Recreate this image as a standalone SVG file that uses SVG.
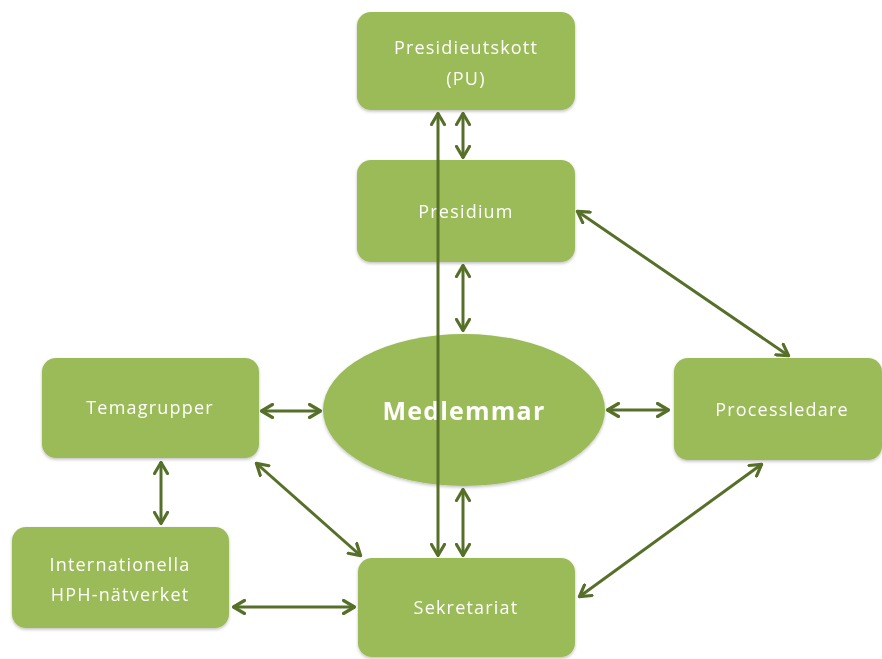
<svg xmlns="http://www.w3.org/2000/svg" width="882" height="659" viewBox="0 0 882 659">
<defs>
<style>
.node{fill:#9BBB59;}
.lbl{font-family:"Open Sans","Liberation Sans",sans-serif;font-size:18px;fill:#FFFFFF;text-anchor:middle;letter-spacing:1.2px;}
.big{font-family:"Open Sans","Liberation Sans",sans-serif;font-size:25px;font-weight:bold;fill:#FFFFFF;text-anchor:middle;letter-spacing:1.2px;}
.con{stroke:#56702A;stroke-width:3;fill:none;marker-start:url(#ah);marker-end:url(#ah);}
</style>
<marker id="ah" viewBox="0 0 14 16" refX="13" refY="8" markerWidth="14" markerHeight="16" markerUnits="userSpaceOnUse" orient="auto-start-reverse">
<path d="M1.5,1.5 L12.5,8 L1.5,14.5" fill="none" stroke="#56702A" stroke-width="3.2" stroke-linecap="round" stroke-linejoin="round"/>
</marker>
<filter id="sh" x="-10%" y="-10%" width="120%" height="130%">
<feDropShadow dx="0" dy="1.5" stdDeviation="1.5" flood-color="#000" flood-opacity="0.25"/>
</filter>
</defs>
<g id="pu" filter="url(#sh)">
<rect class="node" x="357" y="12" width="218" height="98" rx="14"/>
<text class="lbl" x="466" y="54">Presidieutskott</text>
<text class="lbl" x="466" y="85">(PU)</text>
</g>
<g id="presidium" filter="url(#sh)">
<rect class="node" x="357" y="160" width="218" height="102" rx="14"/>
<text class="lbl" x="466" y="218">Presidium</text>
</g>
<g id="medlemmar" filter="url(#sh)">
<ellipse class="node" cx="464" cy="410" rx="141" ry="76"/>
<text class="big" x="464" y="420">Medlemmar</text>
</g>
<g id="temagrupper" filter="url(#sh)">
<rect class="node" x="42" y="358" width="217" height="100" rx="14"/>
<text class="lbl" x="150" y="414">Temagrupper</text>
</g>
<g id="processledare" filter="url(#sh)">
<rect class="node" x="674" y="358" width="208" height="102" rx="14"/>
<text class="lbl" x="782" y="416">Processledare</text>
</g>
<g id="internationella" filter="url(#sh)">
<rect class="node" x="12" y="527" width="217" height="101" rx="14"/>
<text class="lbl" x="120" y="571">Internationella</text>
<text class="lbl" x="120" y="601">HPH-nätverket</text>
</g>
<g id="sekretariat" filter="url(#sh)">
<rect class="node" x="358" y="558" width="217" height="99" rx="14"/>
<text class="lbl" x="466" y="614">Sekretariat</text>
</g>
<g id="connectors">
<line class="con" x1="438" y1="113" x2="438" y2="556" stroke-width="2.4"/>
<line class="con" x1="463" y1="113" x2="463" y2="158"/>
<line class="con" x1="463" y1="265" x2="463" y2="331"/>
<line class="con" x1="463" y1="489" x2="463" y2="556"/>
<line class="con" x1="577" y1="211" x2="789" y2="356"/>
<line class="con" x1="607" y1="410" x2="669" y2="410"/>
<line class="con" x1="762" y1="464" x2="579" y2="597"/>
<line class="con" x1="261" y1="411" x2="321" y2="411"/>
<line class="con" x1="161" y1="462" x2="161" y2="524"/>
<line class="con" x1="256" y1="463" x2="361" y2="556"/>
<line class="con" x1="233" y1="607" x2="355" y2="607"/>
</g>
</svg>
